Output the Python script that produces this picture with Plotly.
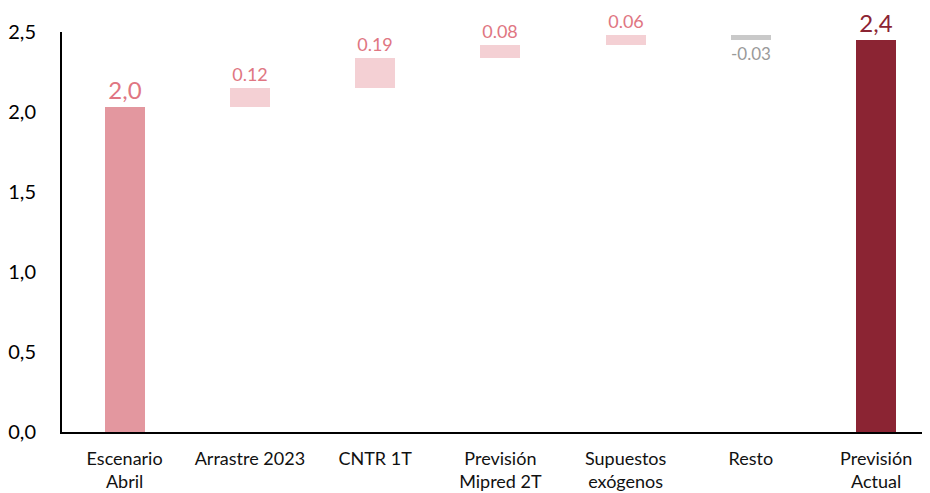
import plotly.graph_objects as go

categories = ["Escenario<br>Abril", "Arrastre 2023", "CNTR 1T", "Previsión<br>Mipred 2T",
              "Supuestos<br>exógenos", "Resto", "Previsión<br>Actual"]
start_value = 2.03
changes = [0.12, 0.19, 0.08, 0.06, -0.03]
final_value = 2.45
labels = ["2,0", "0.12", "0.19", "0.08", "0.06", "-0.03", "2,4"]

# colours
c_start = "#E3979F"
c_up = "#F4D0D4"
c_down = "#C9C9C9"
c_end = "#8B2433"
t_up = "#E07682"
t_down = "#9A9A9A"

heights = [start_value] + changes + [final_value]
bases = [0]
level = start_value
for ch in changes:
    bases.append(level)
    level += ch
bases.append(0)

colors = [c_start] + [c_up if ch > 0 else c_down for ch in changes] + [c_end]
text_colors = [t_up] + [t_up if ch > 0 else t_down for ch in changes] + [c_end]
text_sizes = [24] + [18] * len(changes) + [24]

fig = go.Figure(go.Bar(
    x=categories,
    y=heights,
    base=bases,
    width=0.32,
    marker=dict(color=colors, line=dict(width=0)),
    text=labels,
    textposition="outside",
    textfont=dict(color=text_colors, size=text_sizes, family="Lato"),
    cliponaxis=False,
    hoverinfo="skip",
))

# page body has an 8px margin, so margins are shifted to compensate
fig.update_layout(
    width=930, height=493,
    margin=dict(l=54, r=8, t=24, b=69),
    plot_bgcolor="white", paper_bgcolor="white",
    separators=",.",
    showlegend=False,
    font=dict(family="Lato", color="#111111"),
    bargap=0,
)
fig.update_xaxes(
    range=[-0.5, 6.43], automargin=False,
    showline=True, linecolor="black", linewidth=2,
    showgrid=False, ticks="",
    ticklabelstandoff=9,
    tickfont=dict(size=18),
)
fig.update_yaxes(
    range=[0, 2.5], dtick=0.5, tickformat=".1f", automargin=False,
    showline=True, linecolor="black", linewidth=2,
    showgrid=False, zeroline=False, ticks="",
    ticklabelstandoff=20,
    tickfont=dict(size=20, color="black"),
)

fig.write_html("out.html")
